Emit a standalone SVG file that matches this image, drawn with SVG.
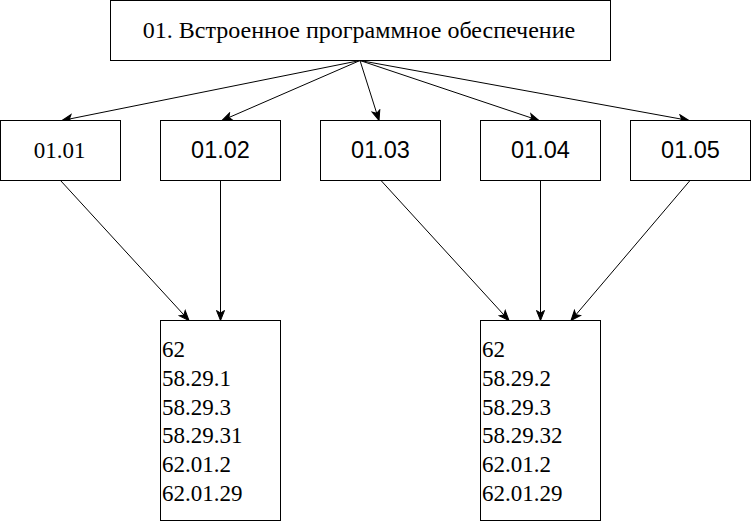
<svg xmlns="http://www.w3.org/2000/svg" width="751" height="521" viewBox="0 0 751 521">
<style>
.box{fill:#fff;stroke:#000;stroke-width:1}
.sans{font-family:'Liberation Sans',Arial,sans-serif;fill:#000}
.serif{font-family:'Liberation Serif','Times New Roman',serif;fill:#000}
.edge{fill:none;stroke:#000;stroke-width:1;marker-end:url(#arr)}
</style>
<defs>
<marker id="arr" markerUnits="userSpaceOnUse" markerWidth="12" markerHeight="10" viewBox="0 0 12 10" refX="11" refY="5" orient="auto">
<path d="M1,1 L11,5 L1,9 L3.5,5 Z" fill="#000" stroke="#000" stroke-width="1"/>
</marker>
</defs>
<rect width="751" height="521" fill="#fff"/>
<g id="connectors">
<line class="edge" x1="360" y1="60.5" x2="62" y2="120.5"/>
<line class="edge" x1="360" y1="60.5" x2="222" y2="120.5"/>
<line class="edge" x1="360" y1="60.5" x2="379" y2="120.5"/>
<line class="edge" x1="360" y1="60.5" x2="539" y2="120.5"/>
<line class="edge" x1="360" y1="60.5" x2="689" y2="120.5"/>
<line class="edge" x1="60.5" y1="180.5" x2="189" y2="320.5"/>
<line class="edge" x1="220.5" y1="180.5" x2="220.5" y2="320.5"/>
<line class="edge" x1="381" y1="180.5" x2="509" y2="320.5"/>
<line class="edge" x1="540.5" y1="180.5" x2="540.5" y2="320.5"/>
<line class="edge" x1="690" y1="180.5" x2="571" y2="320.5"/>
</g>
<g id="n01">
<rect class="box" x="110.5" y="0.5" width="500" height="60"/>
<text class="serif" x="359" y="37.5" font-size="24" text-anchor="middle">01. Встроенное программное обеспечение</text>
</g>
<g id="n0101">
<rect class="box" x="0.5" y="120.5" width="120" height="60"/>
<text class="serif" x="59.5" y="158" font-size="23" text-anchor="middle">01.01</text>
</g>
<g id="n0102">
<rect class="box" x="160.5" y="120.5" width="120" height="60"/>
<text class="sans" x="220.5" y="158" font-size="23.5" text-anchor="middle">01.02</text>
</g>
<g id="n0103">
<rect class="box" x="320.5" y="120.5" width="120" height="60"/>
<text class="sans" x="380.5" y="158" font-size="23.5" text-anchor="middle">01.03</text>
</g>
<g id="n0104">
<rect class="box" x="480.5" y="120.5" width="120" height="60"/>
<text class="sans" x="540.5" y="158" font-size="23.5" text-anchor="middle">01.04</text>
</g>
<g id="n0105">
<rect class="box" x="630.5" y="120.5" width="120" height="60"/>
<text class="sans" x="690.5" y="158" font-size="23.5" text-anchor="middle">01.05</text>
</g>
<g id="codes1">
<rect class="box" x="160.5" y="320.5" width="120" height="200"/>
<text class="serif" font-size="23">
<tspan x="162" y="357">62</tspan>
<tspan x="162" y="385.8">58.29.1</tspan>
<tspan x="162" y="414.6">58.29.3</tspan>
<tspan x="162" y="443.4">58.29.31</tspan>
<tspan x="162" y="472.2">62.01.2</tspan>
<tspan x="162" y="501">62.01.29</tspan>
</text>
</g>
<g id="codes2">
<rect class="box" x="480.5" y="320.5" width="120" height="200"/>
<text class="serif" font-size="23">
<tspan x="482" y="357">62</tspan>
<tspan x="482" y="385.8">58.29.2</tspan>
<tspan x="482" y="414.6">58.29.3</tspan>
<tspan x="482" y="443.4">58.29.32</tspan>
<tspan x="482" y="472.2">62.01.2</tspan>
<tspan x="482" y="501">62.01.29</tspan>
</text>
</g>
</svg>
